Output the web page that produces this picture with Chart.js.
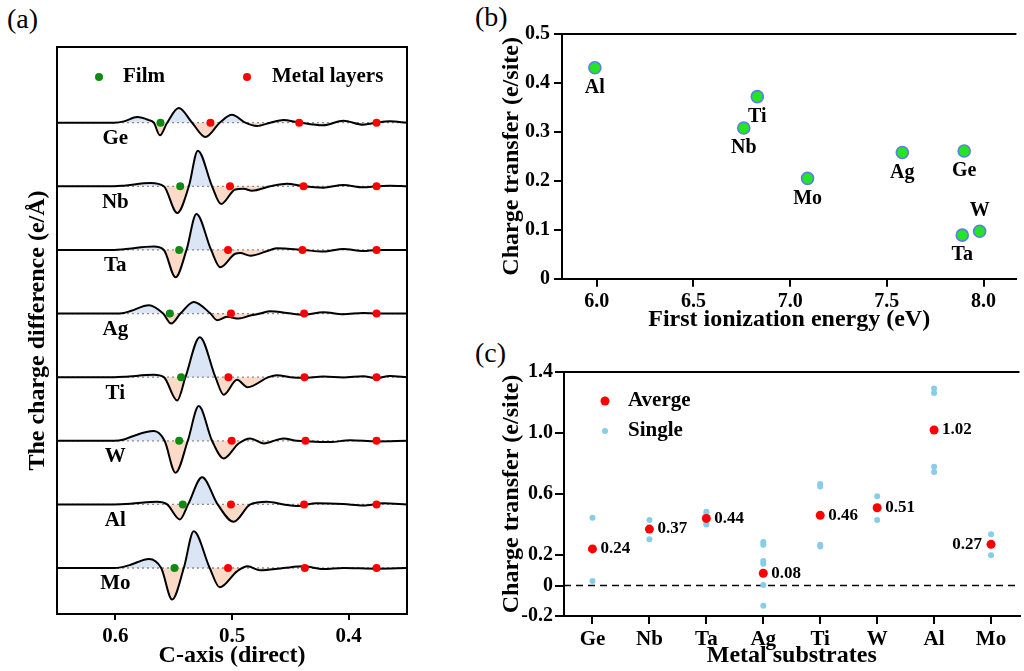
<!DOCTYPE html>
<html>
<head>
<meta charset="utf-8">
<script src="https://cdn.jsdelivr.net/npm/chart.js@4.4.0/dist/chart.umd.min.js"></script>
<style>
  body { margin: 0; background: #fff; width: 1024px; height: 671px; position: relative; overflow: hidden; }
  canvas { position: absolute; }
  .tag { position: absolute; font: 28px 'Liberation Serif', 'Times New Roman', serif; line-height: 28px; color: #000; }
</style>
</head>
<body>
<div class="tag" style="left:7px;top:5px">(a)</div>
<div class="tag" style="left:475px;top:3px">(b)</div>
<div class="tag" style="left:475px;top:339px">(c)</div>
<canvas id="chA" width="420" height="671" style="left:0;top:0"></canvas>
<canvas id="chB" width="524" height="335" style="left:500px;top:0"></canvas>
<canvas id="chC" width="524" height="336" style="left:500px;top:335px"></canvas>
<script>
// ---- data ----
const metals = ['Ge', 'Nb', 'Ta', 'Ag', 'Ti', 'W', 'Al', 'Mo'];

// (a) charge difference curves, [c-axis, delta] (one unit = gap between curves)
const ge = [[0.65,0],[0.601,0],[0.5926,0.021],[0.5812,0.089],[0.5712,0.04],[0.567,0],[0.5618,-0.199],[0.5556,0],[0.5456,0.231],[0.5342,0],[0.5228,-0.225],[0.5105,0],[0.5,0.126],[0.4886,0],[0.4786,-0.052],[0.4672,0],[0.4558,0.042],[0.4444,0.01],[0.4217,-0.042],[0.4046,0.031],[0.3875,-0.031],[0.3761,0],[0.3647,0.021],[0.35,0]];
const nb = [[0.65,0],[0.601,0],[0.5926,0.01],[0.5698,0.052],[0.5584,0],[0.547,-0.419],[0.537,0],[0.5293,0.561],[0.5171,0],[0.5094,-0.278],[0.4972,-0.05],[0.49,-0.04],[0.4829,-0.07],[0.4672,0],[0.453,0.042],[0.4387,0],[0.4217,-0.021],[0.4046,0.021],[0.3875,-0.016],[0.3761,0],[0.3647,0.01],[0.35,0]];
const ta = [[0.65,0],[0.601,0],[0.5926,0.01],[0.567,0.052],[0.5584,0],[0.5484,-0.43],[0.539,0],[0.5305,0.566],[0.5179,0],[0.51,-0.273],[0.4972,-0.06],[0.4929,-0.05],[0.4843,-0.09],[0.4672,0],[0.4615,0.026],[0.45,0.016],[0.4387,0],[0.4217,-0.026],[0.4046,0.016],[0.3875,-0.016],[0.3761,0],[0.35,0]];
const ag = [[0.65,0],[0.601,0],[0.5926,0.01],[0.5869,0.04],[0.5712,0.131],[0.559,0],[0.5521,-0.157],[0.5442,0],[0.5328,0.183],[0.5185,0],[0.5128,-0.105],[0.5043,-0.052],[0.4943,-0.079],[0.4843,-0.03],[0.4758,0],[0.4672,0.037],[0.453,0.01],[0.4387,-0.02],[0.4217,0.02],[0.4046,-0.01],[0.3875,0.01],[0.3761,0],[0.35,0]];
const ti = [[0.65,0],[0.601,0],[0.5926,0.005],[0.567,0.037],[0.5584,0],[0.547,-0.367],[0.5399,0],[0.5276,0.629],[0.5142,0],[0.5071,-0.278],[0.4957,-0.042],[0.4866,-0.157],[0.4687,0],[0.4615,0.031],[0.4501,0],[0.4387,-0.01],[0.4217,0.01],[0.4046,-0.005],[0.3875,0.016],[0.3761,-0.016],[0.3647,0.02],[0.35,0]];
const w = [[0.65,0],[0.601,0],[0.5926,0.02],[0.5869,0.06],[0.567,0.152],[0.5578,0],[0.5484,-0.503],[0.5379,0],[0.5285,0.545],[0.5171,0],[0.5071,-0.278],[0.4943,-0.042],[0.4843,0.037],[0.4729,-0.042],[0.4558,0.037],[0.4444,0],[0.433,-0.01],[0.416,-0.021],[0.3989,0.01],[0.3761,-0.01],[0.35,0]];
const al = [[0.65,0],[0.601,0],[0.5869,0.01],[0.5641,0.042],[0.5556,0],[0.5447,-0.236],[0.5376,0],[0.5256,0.425],[0.5123,0],[0.4986,-0.273],[0.4843,0],[0.4701,0.042],[0.4558,0],[0.4444,-0.026],[0.4274,0.016],[0.4046,0.005],[0.3875,-0.016],[0.3704,0.016],[0.35,0]];
const mo = [[0.65,0],[0.601,0],[0.5954,0.01],[0.5869,0.05],[0.5712,0.142],[0.5607,0],[0.5513,-0.495],[0.5413,0],[0.5328,0.577],[0.5191,0],[0.5105,-0.304],[0.4957,-0.052],[0.4866,0.026],[0.4758,-0.037],[0.4558,0],[0.4387,0.026],[0.4217,-0.016],[0.4046,0],[0.3761,-0.01],[0.35,0]];
const curves = [ge, nb, ta, ag, ti, w, al, mo];
const filmX = [0.5613, 0.5444, 0.5453, 0.5533, 0.5436, 0.5453, 0.5422, 0.5493];
const layerX = [
  [0.5185, 0.4424, 0.3761], [0.5017, 0.4387, 0.3761], [0.5034, 0.4396, 0.3761], [0.5009, 0.4382, 0.3761],
  [0.5031, 0.4379, 0.3761], [0.5003, 0.437, 0.3761], [0.5009, 0.4382, 0.3761], [0.5034, 0.4376, 0.3761]
];
const cAxisTicks = [0.4, 0.5, 0.6];

// (b) first ionization energy vs charge transfer (same order as metals)
const ionEnergy = [7.90, 6.76, 7.89, 7.58, 6.83, 7.98, 5.99, 7.09];
const transferB = [0.261, 0.308, 0.089, 0.258, 0.372, 0.097, 0.431, 0.205];
const ieTicks = [6.0, 6.5, 7.0, 7.5, 8.0];

// (c) charge transfer per substrate
const average = [0.24, 0.37, 0.44, 0.08, 0.46, 0.51, 1.02, 0.27];
const singleGe = [0.445, 0.03];
const singleNb = [0.43, 0.303];
const singleTa = [0.483, 0.47, 0.41, 0.40];
const singleAg = [0.285, 0.268, 0.16, 0.143, 0.003, -0.133];
const singleTi = [0.666, 0.649, 0.268, 0.255];
const singleW = [0.586, 0.43];
const singleAl = [1.292, 1.262, 0.778, 0.745];
const singleMo = [0.336, 0.198];
const singles = [singleGe, singleNb, singleTa, singleAg, singleTi, singleW, singleAl, singleMo];
const transferTicks = [-0.2, 0, 0.2, 0.6, 1.0, 1.4];

// ---- defaults ----
const FONT = "'Liberation Serif', 'Times New Roman', serif";
Chart.defaults.font.family = FONT;
Chart.defaults.font.weight = 'bold';
Chart.defaults.font.size = 20;
Chart.defaults.color = '#000';
Chart.defaults.animation = false;
Chart.defaults.plugins.legend.display = false;
Chart.defaults.plugins.tooltip.enabled = false;

const tickGrid = len => ({ drawOnChartArea: false, drawTicks: true, tickLength: len, color: '#000', lineWidth: 2 });
const axisBorder = { display: true, color: '#000', width: 2 };

function dot(ctx, x, y, r, color) {
  ctx.beginPath();
  ctx.arc(x, y, r, 0, Math.PI * 2);
  ctx.fillStyle = color;
  ctx.fill();
}

// ---- (a) ----
const n = metals.length;
const dsA = [];
curves.forEach((c, i) => {
  const off = n - 1 - i;
  dsA.push({
    data: c.map(p => ({ x: p[0], y: off + p[1] })),
    borderColor: '#000', borderWidth: 2, pointRadius: 0,
    cubicInterpolationMode: 'monotone',
    fill: { target: { value: off }, above: '#dae6f5', below: '#fbdac8' },
    order: 1
  });
  dsA.push({
    data: [{ x: 0.65, y: off }, { x: 0.35, y: off }],
    borderColor: '#8c8c8c', borderWidth: 1.3, borderDash: [2, 3], pointRadius: 0, fill: false, order: 2
  });
  dsA.push({
    data: [{ x: filmX[i], y: off }], showLine: false, fill: false,
    pointRadius: 4, pointBorderWidth: 0, pointBackgroundColor: '#118a11', order: 0
  });
  dsA.push({
    data: layerX[i].map(v => ({ x: v, y: off })), showLine: false, fill: false,
    pointRadius: 4, pointBorderWidth: 0, pointBackgroundColor: '#ff0000', order: 0
  });
});

const panelAText = {
  id: 'panelAText',
  afterDraw(chart) {
    const { ctx, chartArea: a, scales: { x, y } } = chart;
    ctx.save();
    ctx.strokeStyle = '#000';
    ctx.lineWidth = 2;
    ctx.strokeRect(a.left, a.top, a.right - a.left, a.bottom - a.top);
    ctx.fillStyle = '#000';
    ctx.font = 'bold 21px ' + FONT;
    ctx.textAlign = 'center';
    ctx.textBaseline = 'middle';
    metals.forEach((m, i) => {
      ctx.fillText(m, x.getPixelForValue(0.6), y.getPixelForValue(n - 1 - i) + 16);
    });
    // legend
    dot(ctx, 99, 77, 4, '#118a11');
    dot(ctx, 247, 77, 4, '#ff0000');
    ctx.fillStyle = '#000';
    ctx.textAlign = 'left';
    ctx.fillText('Film', 123, 77);
    ctx.fillText('Metal layers', 272, 77);
    ctx.restore();
  }
};

new Chart(document.getElementById('chA'), {
  type: 'line',
  data: { datasets: dsA },
  options: {
    responsive: false,
    layout: { padding: { top: 47, right: 13, left: 0, bottom: 0 } },
    plugins: { filler: { drawTime: 'beforeDatasetsDraw' } },
    scales: {
      x: {
        type: 'linear', reverse: true, min: 0.35, max: 0.65,
        afterBuildTicks: s => { s.ticks = cAxisTicks.map(v => ({ value: v })); },
        afterFit: s => { s.height = 57; },
        ticks: { callback: v => v.toFixed(1), padding: 4, font: { size: 21 } },
        grid: tickGrid(6),
        border: axisBorder,
        title: { display: true, text: 'C-axis (direct)', font: { size: 24, lineHeight: 1 }, padding: { top: 0, bottom: 3 } }
      },
      y: {
        min: -0.723, max: 8.19,
        ticks: { display: false },
        grid: { display: false },
        border: axisBorder,
        afterFit: s => { s.width = 57; },
        title: { display: true, text: 'The charge difference (e/Å)', font: { size: 24, lineHeight: 1 }, padding: { top: 26, bottom: 0 } }
      }
    }
  },
  plugins: [panelAText]
});

// ---- (b) ----
const panelBText = {
  id: 'panelBText',
  afterDraw(chart) {
    const { ctx, chartArea: a, scales: { x, y } } = chart;
    ctx.save();
    ctx.strokeStyle = '#000';
    ctx.lineWidth = 2;
    ctx.beginPath();
    ctx.moveTo(a.left, a.top);
    ctx.lineTo(a.right, a.top);
    ctx.stroke();
    ctx.fillStyle = '#000';
    ctx.font = 'bold 20px ' + FONT;
    ctx.textAlign = 'center';
    ctx.textBaseline = 'middle';
    metals.forEach((m, i) => {
      const px = x.getPixelForValue(ionEnergy[i]);
      const py = y.getPixelForValue(transferB[i]);
      ctx.fillText(m, px, m === 'W' ? py - 20 : py + 20);
    });
    ctx.restore();
  }
};

new Chart(document.getElementById('chB'), {
  type: 'scatter',
  data: {
    datasets: [{
      data: ionEnergy.map((v, i) => ({ x: v, y: transferB[i] })),
      pointRadius: 6, pointBorderWidth: 1.6,
      pointBackgroundColor: '#22e622', pointBorderColor: '#5a7de8'
    }]
  },
  options: {
    responsive: false,
    layout: { padding: { top: 34, right: 0, left: 0, bottom: 0 } },
    scales: {
      x: {
        min: 5.82, max: 8.17,
        afterBuildTicks: s => { s.ticks = ieTicks.map(v => ({ value: v })); },
        afterFit: s => { s.height = 56.3; },
        ticks: { callback: v => v.toFixed(1), padding: 3 },
        grid: tickGrid(8),
        border: axisBorder,
        title: { display: true, text: 'First ionization energy (eV)', font: { size: 24, lineHeight: 1 }, padding: { top: 0, bottom: 3 } }
      },
      y: {
        min: 0, max: 0.5,
        ticks: { stepSize: 0.1, padding: 4 },
        grid: tickGrid(8),
        border: axisBorder,
        afterFit: s => { s.width = 62; },
        title: { display: true, text: 'Charge transfer (e/site)', font: { size: 24, lineHeight: 1 }, padding: { top: 0, bottom: 0 } }
      }
    }
  },
  plugins: [panelBText]
});

// ---- (c) ----
const singlePoints = [];
singles.forEach((arr, i) => arr.forEach(v => singlePoints.push({ x: i, y: v })));

const panelCText = {
  id: 'panelCText',
  beforeDatasetsDraw(chart) {
    const { ctx, chartArea: a, scales: { y } } = chart;
    const py = y.getPixelForValue(0);
    ctx.save();
    ctx.strokeStyle = '#000';
    ctx.lineWidth = 1.6;
    ctx.setLineDash([7, 5]);
    ctx.beginPath();
    ctx.moveTo(a.left, py);
    ctx.lineTo(a.right, py);
    ctx.stroke();
    ctx.restore();
  },
  afterDraw(chart) {
    const { ctx, chartArea: a, scales: { x, y } } = chart;
    ctx.save();
    ctx.strokeStyle = '#000';
    ctx.lineWidth = 2;
    ctx.beginPath();
    ctx.moveTo(a.left, a.top);
    ctx.lineTo(a.right, a.top);
    ctx.stroke();
    ctx.fillStyle = '#000';
    ctx.font = 'bold 17px ' + FONT;
    ctx.textBaseline = 'middle';
    metals.forEach((m, i) => {
      const px = x.getPixelForValue(i);
      const py = y.getPixelForValue(average[i]);
      if (m === 'Mo') {
        ctx.textAlign = 'right';
        ctx.fillText(average[i].toFixed(2), px - 9, py);
      } else {
        ctx.textAlign = 'left';
        ctx.fillText(average[i].toFixed(2), px + 8, py);
      }
    });
    // legend
    dot(ctx, 105, 66, 4.5, '#ff0000');
    dot(ctx, 105, 96, 3, '#87cdea');
    ctx.fillStyle = '#000';
    ctx.font = 'bold 21px ' + FONT;
    ctx.textAlign = 'left';
    ctx.fillText('Averge', 128, 66);
    ctx.fillText('Single', 128, 96);
    ctx.restore();
  }
};

new Chart(document.getElementById('chC'), {
  type: 'scatter',
  data: {
    datasets: [
      {
        data: average.map((v, i) => ({ x: i, y: v })),
        pointRadius: 4.5, pointBorderWidth: 0, pointBackgroundColor: '#ff0000', order: 0
      },
      {
        data: singlePoints,
        pointRadius: 3, pointBorderWidth: 0, pointBackgroundColor: '#87cdea', order: 1
      }
    ]
  },
  options: {
    responsive: false,
    layout: { padding: { top: 37, right: 0, left: 0, bottom: 0 } },
    scales: {
      x: {
        type: 'linear', min: -0.5, max: metals.length - 0.5,
        afterBuildTicks: s => { s.ticks = metals.map((m, i) => ({ value: i })); },
        afterFit: s => { s.height = 55; },
        ticks: { callback: v => metals[v], padding: 3, font: { size: 21 } },
        grid: tickGrid(8),
        border: axisBorder,
        title: { display: true, text: 'Metal substrates', font: { size: 24, lineHeight: 1 }, padding: { top: 0, bottom: 3 } }
      },
      y: {
        min: -0.2, max: 1.4,
        afterBuildTicks: s => { s.ticks = transferTicks.map(v => ({ value: v })); },
        ticks: { callback: v => (v === 0 ? '0' : v.toFixed(1)), padding: 2 },
        grid: tickGrid(9),
        border: axisBorder,
        afterFit: s => { s.width = 64; },
        title: { display: true, text: 'Charge transfer (e/site)', font: { size: 24, lineHeight: 1 }, padding: { top: 0, bottom: 0 } }
      }
    }
  },
  plugins: [panelCText]
});
</script>
</body>
</html>
